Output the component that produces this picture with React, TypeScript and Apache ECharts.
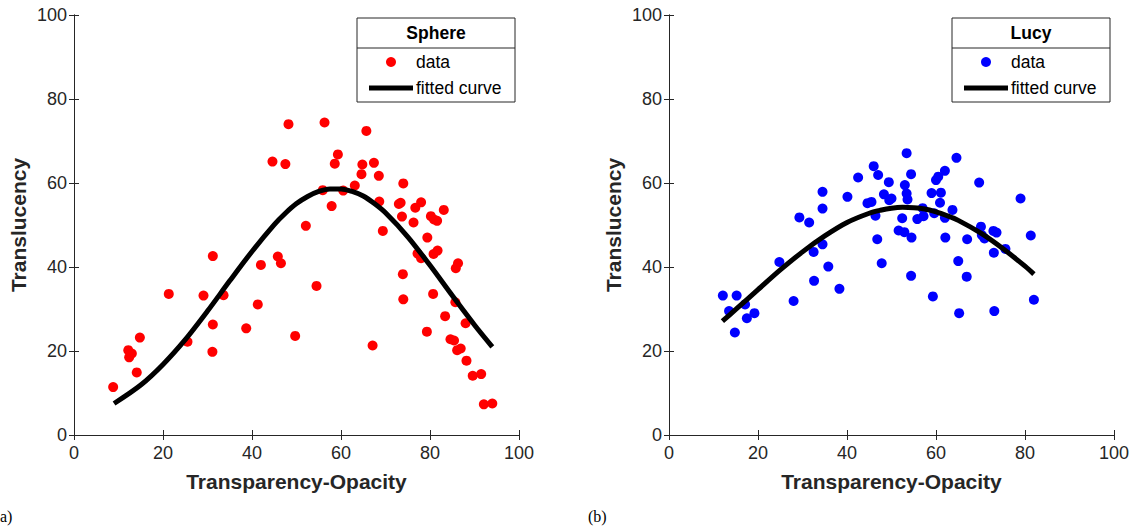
import React, { useEffect, useRef } from "react";
import * as echarts from "echarts";

const sphereX = [8.8, 12.2, 13.0, 12.4, 14.1, 14.8, 21.3, 25.5, 29.1, 31.2, 31.2, 31.1, 33.6, 38.7, 41.3, 42.0, 44.6, 45.8, 46.5, 47.5, 48.2, 49.7, 52.1, 54.5, 56.3, 55.9, 57.9, 58.6, 59.3, 60.5, 63.1, 64.6, 64.8, 65.7, 67.1, 67.4, 68.5, 68.6, 69.4, 73.0, 73.4, 73.7, 73.9, 74.0, 74.0, 76.3, 76.7, 78.0, 77.2, 78.0, 79.3, 79.4, 80.2, 80.7, 80.8, 80.9, 81.6, 81.7, 83.1, 83.4, 84.6, 85.4, 85.7, 85.8, 86.3, 86.1, 86.9, 88.0, 88.2, 89.6, 91.5, 92.1, 94.0];
const sphereY = [11.4, 20.2, 19.4, 18.5, 14.9, 23.2, 33.6, 22.2, 33.2, 42.6, 26.3, 19.8, 33.3, 25.4, 31.1, 40.5, 65.1, 42.5, 40.9, 64.5, 74.0, 23.6, 49.8, 35.5, 74.4, 58.3, 54.5, 64.6, 66.8, 58.2, 59.4, 62.1, 64.4, 72.4, 21.3, 64.8, 61.7, 55.6, 48.6, 55.0, 55.3, 52.0, 38.3, 32.3, 59.9, 50.6, 54.1, 55.4, 43.2, 42.1, 24.6, 47.0, 52.1, 33.6, 43.1, 51.3, 51.0, 43.9, 53.6, 28.3, 22.8, 22.5, 31.6, 39.7, 40.9, 20.2, 20.6, 26.6, 17.7, 14.1, 14.5, 7.3, 7.5];

const sphereCurveX = [9, 15, 20, 25, 30, 35, 40, 45, 47.5, 50, 52.5, 55, 57.5, 60, 62.5, 65, 67.5, 70, 75, 80, 85, 90, 94];
const sphereCurveY = [7.5, 11.9, 16.8, 22.7, 29.5, 36.7, 43.7, 50.1, 52.8, 55.1, 56.8, 58.0, 58.6, 58.6, 58.0, 56.9, 55.1, 52.9, 47.2, 40.4, 33.2, 26.2, 21.0];

const lucyX = [12.1, 15.2, 13.5, 17.1, 17.5, 19.2, 14.8, 24.8, 28.0, 29.3, 31.5, 32.5, 32.6, 34.5, 34.5, 34.5, 35.8, 38.3, 40.1, 42.5, 44.6, 45.5, 46.0, 47.0, 46.4, 46.8, 47.8, 48.3, 49.4, 49.5, 50.0, 52.4, 51.6, 52.9, 54.5, 53.0, 53.4, 53.6, 53.4, 54.4, 54.4, 55.8, 57.2, 57.0, 59.3, 59.0, 59.6, 60.0, 60.5, 61.1, 60.9, 62.0, 62.0, 62.1, 63.7, 64.6, 65.0, 65.2, 67.0, 66.9, 69.7, 70.1, 70.3, 70.9, 72.9, 73.6, 73.0, 73.1, 75.6, 79.0, 81.3, 82.0];
const lucyY = [33.2, 33.2, 29.5, 31.1, 27.8, 29.0, 24.4, 41.2, 31.9, 51.8, 50.6, 43.6, 36.7, 45.4, 53.9, 57.9, 40.1, 34.8, 56.7, 61.3, 55.2, 55.5, 64.0, 61.9, 52.2, 46.6, 40.9, 57.3, 60.2, 55.9, 56.3, 51.6, 48.7, 48.3, 47.0, 59.5, 57.5, 56.1, 67.1, 62.1, 37.9, 51.4, 52.1, 54.0, 33.0, 57.6, 52.8, 60.7, 61.5, 57.7, 55.3, 62.9, 51.7, 47.0, 53.6, 66.0, 41.4, 29.0, 46.6, 37.7, 60.1, 49.6, 47.6, 46.8, 48.6, 48.2, 43.4, 29.5, 44.3, 56.3, 47.5, 32.2];

const lucyCurveX = [12, 15, 20, 25, 30, 35, 40, 45, 47.5, 50, 52.5, 55, 57.5, 60, 62.5, 65, 70, 75, 80, 82];
const lucyCurveY = [27.1, 29.9, 34.6, 39.3, 43.6, 47.4, 50.6, 52.8, 53.5, 54.0, 54.2, 54.1, 53.8, 53.1, 52.2, 51.1, 48.1, 44.4, 40.2, 38.3];

const xTicks = ["0", "20", "40", "60", "80", "100"];
const yTicks = ["0", "20", "40", "60", "80", "100"];

const FONT = "Liberation Sans, Arial, Helvetica, sans-serif";
const AX = "#262626";

function zip(a: number[], b: number[]) {
  return a.map((v, i) => [v, b[i]]);
}

function legend(x: number, title: string, color: string) {
  const w = 158;
  return [
    { type: "rect", z: 100, shape: { x, y: 18, width: w, height: 84 }, style: { fill: "#fff", stroke: AX, lineWidth: 1 } },
    { type: "line", z: 101, shape: { x1: x, y1: 48, x2: x + w, y2: 48 }, style: { stroke: AX, lineWidth: 1 } },
    { type: "text", z: 101, x: x + 79, y: 33, style: { text: title, font: `bold 17.5px ${FONT}`, fill: "#000", align: "center", verticalAlign: "middle" } },
    { type: "circle", z: 101, shape: { cx: x + 34, cy: 62, r: 5 }, style: { fill: color } },
    { type: "text", z: 101, x: x + 59, y: 62, style: { text: "data", font: `17.5px ${FONT}`, fill: "#000", align: "left", verticalAlign: "middle" } },
    { type: "line", z: 101, shape: { x1: x + 12, y1: 88, x2: x + 56, y2: 88 }, style: { stroke: "#000", lineWidth: 5 } },
    { type: "text", z: 101, x: x + 59, y: 88, style: { text: "fitted curve", font: `17.5px ${FONT}`, fill: "#000", align: "left", verticalAlign: "middle" } },
  ];
}

export default function App() {
  const ref = useRef<HTMLDivElement>(null);
  useEffect(() => {
    if (!ref.current) return;
    const chart = echarts.init(ref.current, null, { renderer: "svg" });
    const labelFmt = (arr: string[]) => (v: number) => arr[Math.round(v / 20)] ?? "";
    const mainX = (grid: number) => ({
      type: "value", gridIndex: grid, min: 0, max: 100, interval: 20, position: "bottom",
      name: "Transparency-Opacity", nameLocation: "middle", nameGap: 36,
      nameTextStyle: { fontFamily: FONT, fontSize: 21, fontWeight: "bold", color: AX },
      axisLine: { show: true, lineStyle: { color: AX, width: 1 } },
      axisTick: { show: true, inside: true, length: 5, lineStyle: { color: AX } },
      axisLabel: { show: true, margin: 9, fontFamily: FONT, fontSize: 18, color: AX, formatter: labelFmt(xTicks) },
      splitLine: { show: false },
    });
    const mirrorX = (grid: number) => ({
      type: "value", gridIndex: grid, min: 0, max: 100, interval: 20, position: "top",
      axisLine: { show: true, lineStyle: { color: AX, width: 1 } },
      axisTick: { show: true, inside: true, length: 5, lineStyle: { color: AX } },
      axisLabel: { show: false }, splitLine: { show: false },
    });
    const mainY = (grid: number) => ({
      type: "value", gridIndex: grid, min: 0, max: 100, interval: 20, position: "left",
      name: "Translucency", nameLocation: "middle", nameGap: 45,
      nameTextStyle: { fontFamily: FONT, fontSize: 21, fontWeight: "bold", color: AX },
      axisLine: { show: true, lineStyle: { color: AX, width: 1 } },
      axisTick: { show: true, inside: true, length: 5, lineStyle: { color: AX } },
      axisLabel: { show: true, margin: 7, fontFamily: FONT, fontSize: 18, color: AX, formatter: labelFmt(yTicks) },
      splitLine: { show: false },
    });
    const mirrorY = (grid: number) => ({
      type: "value", gridIndex: grid, min: 0, max: 100, interval: 20, position: "right",
      axisLine: { show: true, lineStyle: { color: AX, width: 1 } },
      axisTick: { show: true, inside: true, length: 5, lineStyle: { color: AX } },
      axisLabel: { show: false }, splitLine: { show: false },
    });
    chart.setOption({
      animation: false,
      backgroundColor: "#fff",
      grid: [
        { left: 74, top: 15, width: 445, height: 420 },
        { left: 669, top: 15, width: 445, height: 420 },
      ],
      xAxis: [mainX(0), mirrorX(0), mainX(1), mirrorX(1)],
      yAxis: [mainY(0), mirrorY(0), mainY(1), mirrorY(1)],
      series: [
        { name: "data", type: "scatter", xAxisIndex: 0, yAxisIndex: 0, symbolSize: 10, itemStyle: { color: "#ff0000", opacity: 1 }, data: zip(sphereX, sphereY) },
        { name: "fitted curve", type: "line", xAxisIndex: 0, yAxisIndex: 0, smooth: 0.3, symbol: "none", lineStyle: { color: "#000", width: 5 }, data: zip(sphereCurveX, sphereCurveY), z: 3 },
        { name: "data", type: "scatter", xAxisIndex: 2, yAxisIndex: 2, symbolSize: 10, itemStyle: { color: "#0000ff", opacity: 1 }, data: zip(lucyX, lucyY) },
        { name: "fitted curve", type: "line", xAxisIndex: 2, yAxisIndex: 2, smooth: 0.3, symbol: "none", lineStyle: { color: "#000", width: 5 }, data: zip(lucyCurveX, lucyCurveY), z: 3 },
      ],
      graphic: [
        ...legend(357, "Sphere", "#ff0000"),
        ...legend(952, "Lucy", "#0000ff"),
        { type: "text", x: 0, y: 516, style: { text: "a)", font: "16px 'Liberation Serif', 'DejaVu Serif', serif", fill: "#000", verticalAlign: "middle" } },
        { type: "text", x: 588, y: 516, style: { text: "(b)", font: "16px 'Liberation Serif', 'DejaVu Serif', serif", fill: "#000", verticalAlign: "middle" } },
      ],
    });
    return () => chart.dispose();
  }, []);
  return <div ref={ref} style={{ position: "absolute", left: 0, top: 0, width: 1134, height: 529 }} />;
}
